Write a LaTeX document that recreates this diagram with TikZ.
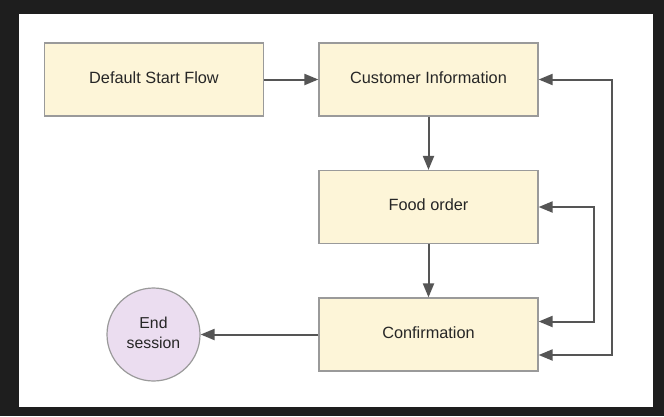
\documentclass[tikz,border=0pt]{standalone}
\usepackage{fontspec}
\setmainfont{Liberation Sans}
\usetikzlibrary{arrows.meta}
\definecolor{boxfill}{HTML}{FDF5D8}
\definecolor{boxline}{HTML}{9A9A9A}
\definecolor{circfill}{HTML}{EBDDF0}
\definecolor{arrcol}{HTML}{555555}
\definecolor{framecol}{HTML}{1E1E1E}
\tikzset{
  stepbox/.style={draw=boxline, line width=1.2pt, fill=boxfill, minimum width=219pt, minimum height=73pt, inner sep=0pt, text height=11.7pt, text depth=3.8pt, font=\fontsize{16.3}{19}\selectfont, text=black!85},
  endcirc/.style={circle, draw=boxline, line width=1.2pt, fill=circfill, minimum size=93pt, inner sep=0pt, font=\fontsize{15.8}{20}\selectfont, text=black!85},
  arr/.style={draw=arrcol, line width=2pt, -{Triangle[length=14pt,width=11pt]}},
  arr2/.style={draw=arrcol, line width=2pt, {Triangle[length=14pt,width=11pt]}-{Triangle[length=14pt,width=11pt]}}
}
\begin{document}
\begin{tikzpicture}[x=1pt,y=-1pt]
\useasboundingbox (0,0) rectangle (664,416);
\fill[framecol] (0,0) rectangle (664,416);
\fill[white] (19,14) rectangle (653,407);
\node[stepbox] (dsf) at (154,79.5) {Default Start Flow};
\node[stepbox] (ci) at (428.5,79.5) {Customer Information};
\node[stepbox] (fo) at (428.5,207) {Food order};
\node[stepbox] (conf) at (428.5,334.5) {Confirmation};
\node[endcirc] (end) at (153.5,334.5) {\raisebox{1.5pt}{\begin{tabular}{@{}c@{}}End\\session\end{tabular}}};
\draw[arr] (dsf.east) -- (ci.west);
\draw[arr] (ci.south) -- (fo.north);
\draw[arr] (fo.south) -- (conf.north);
\draw[arr] (conf.west) -- (end.east);
\draw[arr2] (ci.east) -- ++(73,0) |- ([yshift=-20.5pt]conf.east);
\draw[arr2] (fo.east) -- ++(55,0) |- ([yshift=13pt]conf.east);
\end{tikzpicture}
\end{document}
